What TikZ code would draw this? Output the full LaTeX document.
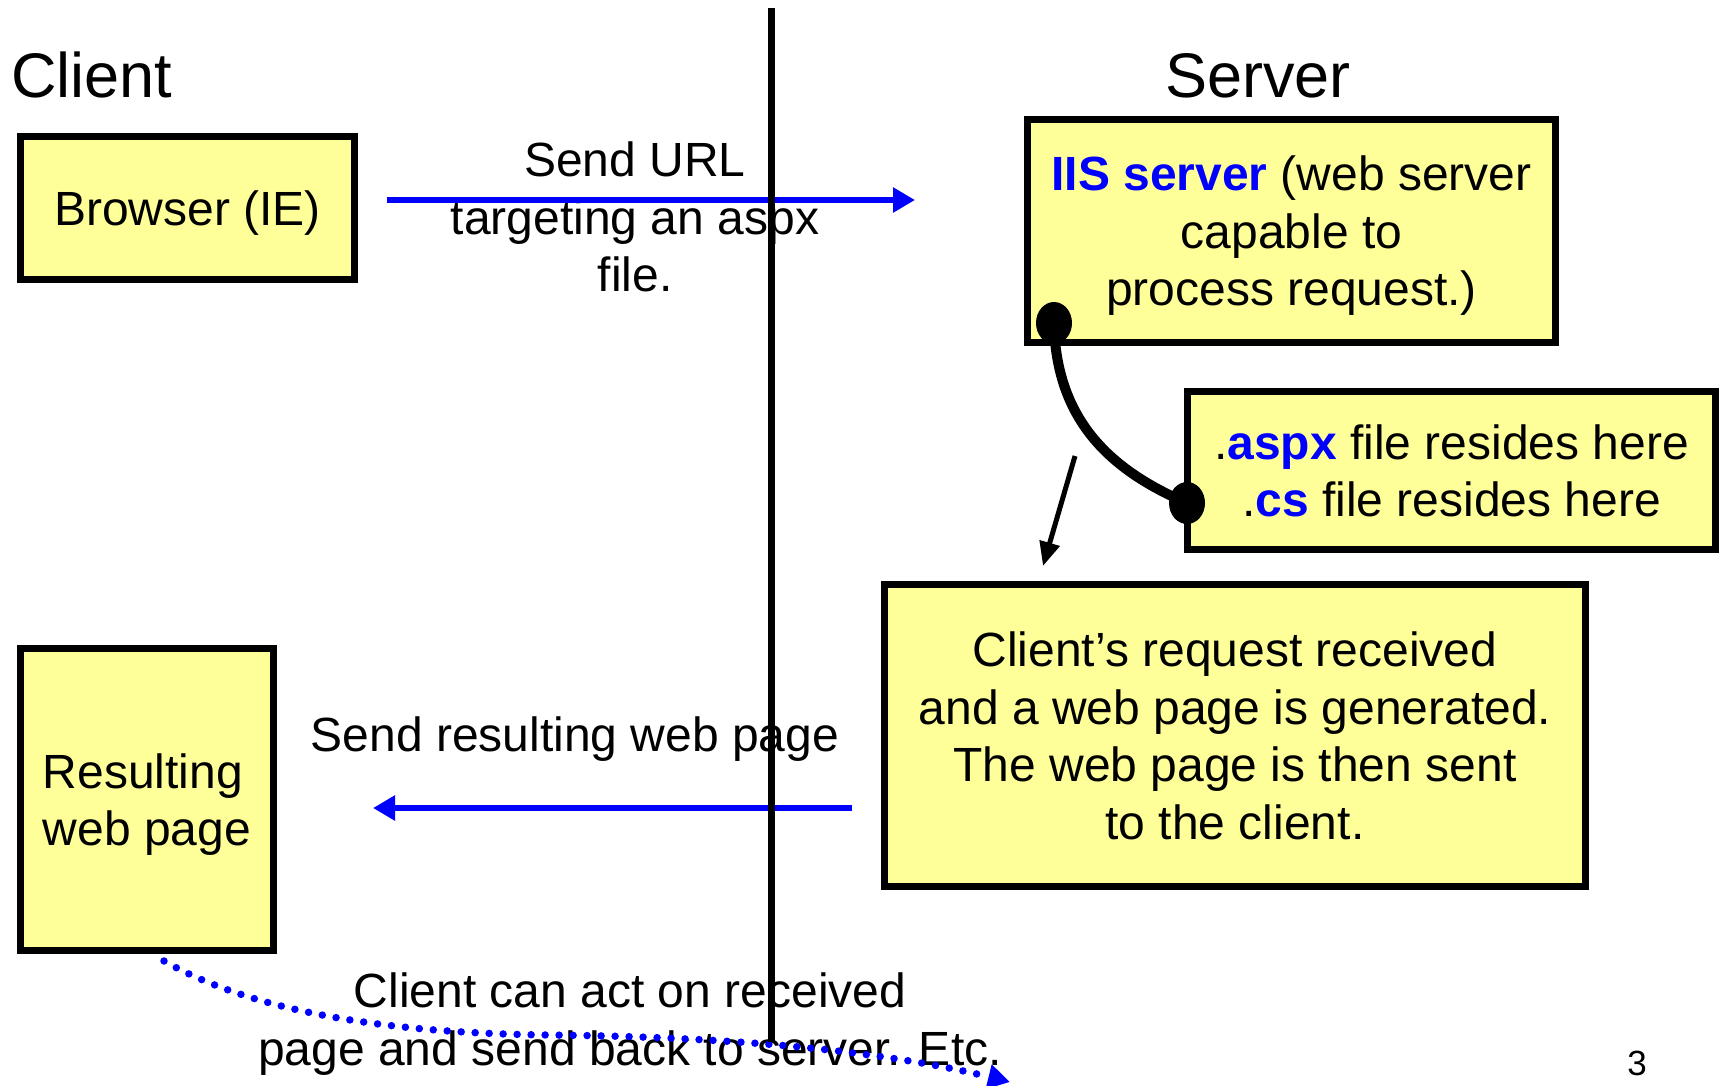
\documentclass[tikz,border=0pt]{standalone}
\usepackage{fontspec}
\setmainfont{Liberation Sans}
\usepackage{tikz}
\usetikzlibrary{arrows.meta}
\definecolor{boxfill}{HTML}{FFFF99}
\tikzset{box/.style = {draw,line width=7pt,fill=boxfill,align=center,inner sep=0pt,text depth=0pt,font=\fontsize{48}{57.6}\selectfont}}
\tikzset{txt/.style = {align=center,inner sep=0pt,font=\fontsize{48}{57.6}\selectfont}}
\tikzset{head/.style = {inner sep=0pt,anchor=base west,font=\fontsize{63}{75}\selectfont}}
\tikzset{flow/.style = {blue,line width=6pt,-{Triangle[length=22pt,width=24pt]}}}
\newcommand{\hl}[1]{\textcolor{blue}{\textbf{#1}}}

\begin{document}
\begin{tikzpicture}[x=1pt,y=-1pt]
    \useasboundingbox (0,0) rectangle (1719,1085);
    \node [head] (client) at (11,97) {Client};
    \node [head] (server) at (1165,97) {Server};

    \node [box,minimum width=334,minimum height=143] (browser) at (187.5,208) {Browser (IE)};
    \node [box,minimum width=528,minimum height=223] (iis) at (1291.5,231) {\hl{IIS server} (web server\\capable to\\process request.)};
    \node [box,minimum width=528,minimum height=158] (files) at (1451.5,470.5) {.\hl{aspx} file resides here\\.\hl{cs} file resides here};
    \node [box,minimum width=701,minimum height=302] (request) at (1235,735.5) {Client's request received\\and a web page is generated.\\The web page is then sent\\to the client.};
    \node [box,align=left,minimum width=253,minimum height=302] (result) at (147,799.5) {Resulting\\web page};

    \node [txt] (urltext) at (635,217) {Send URL\\targeting an aspx\\file.};
    \node [txt] (sendtext) at (575,739) {Send resulting web page};
    \node [txt] (acttext) at (630,1024) {Client can act on received\\page and send back to server. Etc.};
    \node [font=\fontsize{35}{42}\selectfont] (pagenum) at (1637,1063) {3};

    \coordinate (urlA) at (387,200);
    \coordinate (urlB) at (915,200);
    \coordinate (sendA) at (852,808);
    \coordinate (sendB) at (373,808);
    \coordinate (actA) at (164,961);
    \coordinate (actB) at (1010,1082);
    \coordinate (plugA) at (1054,323);
    \coordinate (plugB) at (1187,503);
    \coordinate (hintA) at (1075,456);
    \coordinate (hintB) at (1043,566);
    \coordinate (divTop) at (771,8);
    \coordinate (divBot) at (771,1042);

    \draw [flow] (urlA) -- (urlB);
    \draw [flow] (sendA) -- (sendB);
    \draw [blue,line width=7.5pt,line cap=round,dash pattern=on 0pt off 14pt,-{Triangle[length=22pt,width=24pt]}]
        (actA) .. controls (250,1010) and (380,1033) .. (548,1035)
        .. controls (760,1037) and (900,1055) .. (actB);
    \draw [line width=10pt] (plugA) .. controls (1056,420) and (1110,470) .. (plugB);
    \foreach \p in {plugA,plugB} {
        \fill (\p) ellipse (18 and 21);
    }
    \draw [line width=5pt,-{Triangle[length=24pt,width=20pt]}] (hintA) -- (hintB);
    \draw [line width=7pt] (divTop) -- (divBot);
\end{tikzpicture}
\end{document}
